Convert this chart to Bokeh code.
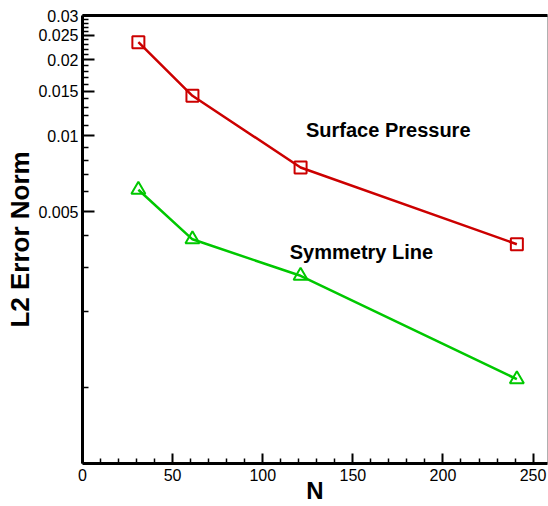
from bokeh.plotting import figure
from bokeh.models import Range1d, FixedTicker, NumeralTickFormatter, LinearAxis
from bokeh.core.properties import value
from bokeh.embed import file_html
from bokeh.resources import INLINE

# Grid sizes and L2 error norms
n_points = [31, 61, 121, 241]
surface_pressure = [0.0235, 0.0144, 0.00748, 0.00371]
symmetry_line = [0.0061, 0.00388, 0.00278, 0.00108]

x_major = [0, 50, 100, 150, 200, 250]
x_minor = [v for v in range(10, 260, 10) if v % 50 != 0]
y_major = [0.005, 0.01, 0.015, 0.02, 0.025, 0.03]
y_minor = [0.001, 0.002, 0.003, 0.004,
           0.006, 0.007, 0.008, 0.009,
           0.011, 0.012, 0.013, 0.014,
           0.016, 0.017, 0.018, 0.019,
           0.021, 0.022, 0.023, 0.024,
           0.026, 0.027, 0.028, 0.029]

FONT = "Liberation Sans"
RED = "#cc0000"
GREEN = "#00c800"

p = figure(width=548, height=506, output_backend="svg", toolbar_location=None,
           x_range=Range1d(0, 258), y_range=Range1d(0.0005, 0.03),
           y_axis_type="log",
           min_border_left=82, min_border_right=1,
           min_border_top=15, min_border_bottom=43)
p.background_fill_color = "white"
p.border_fill_color = "white"
p.outline_line_color = "#b0b0b0"
p.outline_line_width = 1
p.grid.visible = False

# Series
p.line(n_points, surface_pressure, line_color=RED, line_width=2.5)
p.scatter(n_points, surface_pressure, marker="square", size=12,
          line_color=RED, line_width=2, fill_color=None)
p.line(n_points, symmetry_line, line_color=GREEN, line_width=2.5)
p.scatter(n_points, symmetry_line, marker="triangle", size=14,
          line_color=GREEN, line_width=2, fill_color=None)

# Curve labels
p.text(x=[124], y=[0.0105], text=["Surface Pressure"],
       text_font=value(FONT), text_font_style="bold", text_font_size="20px",
       text_color="black", text_align="left", text_baseline="alphabetic")
p.text(x=[115], y=[0.00347], text=["Symmetry Line"],
       text_font=value(FONT), text_font_style="bold", text_font_size="20px",
       text_color="black", text_align="left", text_baseline="alphabetic")

# Axes
for ax in (p.xaxis[0], p.yaxis[0]):
    ax.axis_line_width = 3
    ax.axis_line_color = "black"
    ax.major_tick_line_width = 2
    ax.minor_tick_line_width = 1.5
    ax.major_tick_out = 0
    ax.minor_tick_out = 0
    ax.major_label_text_font = FONT
    ax.major_label_text_font_size = "16px"
    ax.major_label_text_color = "black"
    ax.axis_label_text_font = FONT
    ax.axis_label_text_font_style = "bold"
    ax.axis_label_text_color = "black"

xa = p.xaxis[0]
xa.ticker = FixedTicker(ticks=x_major, minor_ticks=x_minor)
xa.major_tick_in = 10
xa.minor_tick_in = 5
xa.major_label_standoff = 5
xa.axis_label = "N"
xa.axis_label_text_font_size = "24px"
xa.axis_label_standoff = -7

ya = p.yaxis[0]
ya.ticker = FixedTicker(ticks=y_major, minor_ticks=y_minor)
ya.formatter = NumeralTickFormatter(format="0.[000]")
ya.major_tick_in = 12
ya.minor_tick_in = 6
ya.major_label_standoff = 4
ya.axis_label = "L2 Error Norm"
ya.axis_label_text_font_size = "26px"
ya.axis_label_standoff = 0

# Top border line
top = LinearAxis(ticker=FixedTicker(ticks=[]), axis_line_width=3,
                 axis_line_color="black", major_tick_line_color=None,
                 minor_tick_line_color=None, major_label_text_font_size="0px")
p.add_layout(top, "above")

open("out.html", "w").write(file_html(p, INLINE))
